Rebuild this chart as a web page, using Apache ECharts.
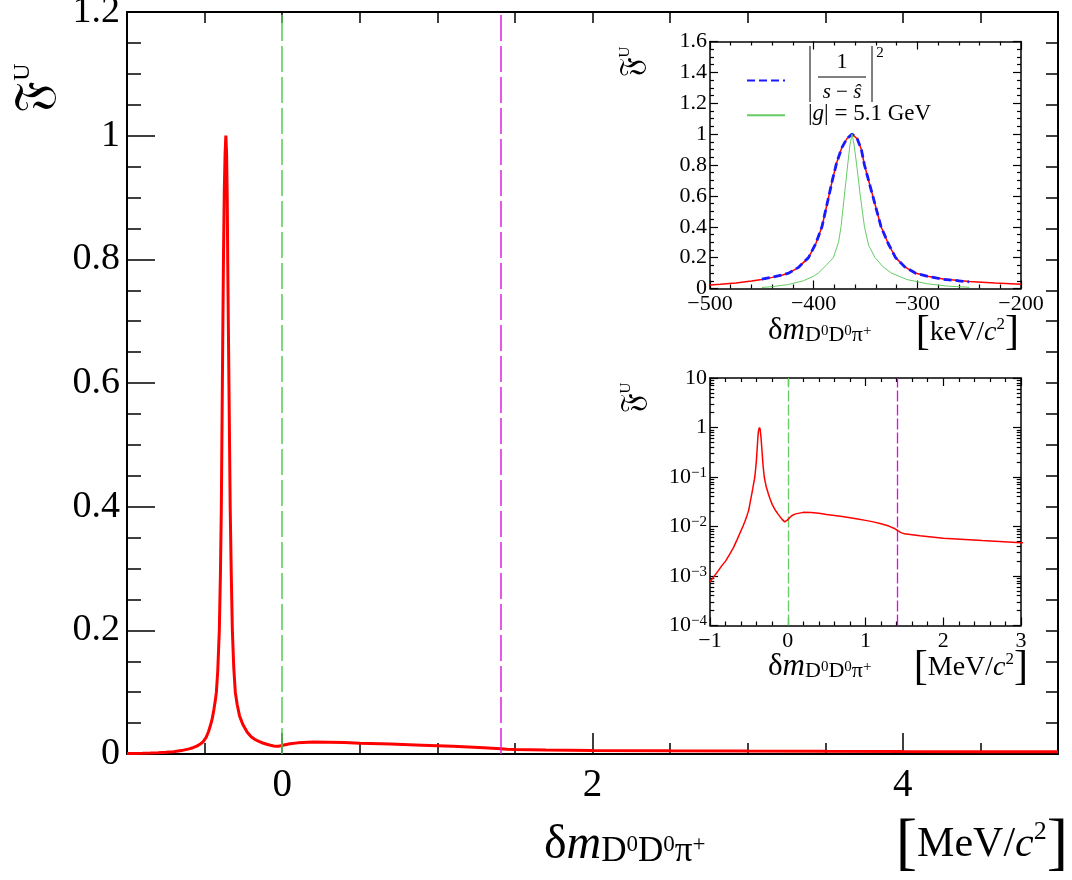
<!DOCTYPE html>
<html>
<head>
<meta charset="utf-8">
<script src="https://cdn.jsdelivr.net/npm/echarts@6/dist/echarts.min.js"></script>
<style>
html,body{margin:0;padding:0;background:#fff;}
#c{width:1072px;height:880px;}
</style>
</head>
<body>
<div id="c"></div>
<script>
// ---------------- data ----------------
// threshold lines (MeV)
const thresholds = [0, 1.41];
// left tail of the red curve (MeV)
const tailLeftX = [-1.0,-0.95,-0.9,-0.85,-0.8,-0.75,-0.7,-0.65,-0.6,-0.575,-0.55,-0.525,-0.51];
const tailLeftY = [0.00076,0.00097,0.00124,0.0016,0.0020,0.0027,0.0037,0.0055,0.0083,0.0102,0.0128,0.0165,0.0195];
// peak region of the red curve (keV)
const peakKeV = [-500,-490,-475,-460,-450,-440,-430,-424,-415,-405,-398,-392,-386,-382,-378,-373,-368,-363,-358,-354,-351,-347,-343,-339,-335,-328,-321,-312,-302,-290,-275,-260,-250,-225,-200];
const peakRed = [0.022,0.027,0.036,0.048,0.058,0.072,0.088,0.10,0.135,0.20,0.29,0.40,0.58,0.70,0.81,0.91,0.97,1.0,0.97,0.90,0.80,0.70,0.60,0.50,0.40,0.29,0.20,0.14,0.10,0.080,0.062,0.052,0.046,0.035,0.028];
// right tail of the red curve (MeV)
const tailRightX = [-0.175,-0.15,-0.125,-0.1,-0.075,-0.055,-0.04,-0.025,-0.01,0,0.05,0.1,0.2,0.3,0.4,0.5,0.7,0.9,1.0,1.1,1.2,1.3,1.38,1.41,1.45,1.5,1.6,1.7,2.0,2.5,3.0,3.5,4.0,4.5,5.0];
const tailRightY = [0.0235,0.0203,0.0178,0.0158,0.0141,0.0129,0.0124,0.0126,0.0133,0.0140,0.0165,0.0180,0.0193,0.0192,0.0185,0.0175,0.0160,0.0142,0.0133,0.0124,0.0114,0.0102,0.0090,0.0084,0.0076,0.0071,0.0068,0.0065,0.0058,0.0052,0.0047,0.0043,0.0040,0.0038,0.0036];
// |1/(s - s^)|^2 (keV)
const blueKeV = [-450,-440,-430,-424,-415,-405,-398,-392,-386,-382,-378,-373,-368,-363,-358,-354,-351,-347,-343,-339,-335,-328,-321,-312,-302,-290,-275,-260,-250];
const blueY = [0.060,0.073,0.088,0.10,0.135,0.20,0.29,0.40,0.58,0.70,0.81,0.91,0.97,1.0,0.97,0.90,0.80,0.70,0.60,0.50,0.40,0.29,0.20,0.14,0.10,0.079,0.060,0.050,0.043];
// |g| = 5.1 GeV (keV)
const greenKeV = [-450,-440,-425,-410,-400,-395.5,-388,-381,-376,-373.6,-370.4,-367.2,-365,-363,-361,-358.5,-355,-351,-347,-340.8,-333,-325,-310,-290,-270,-250];
const greenY = [0.007,0.012,0.025,0.050,0.080,0.10,0.15,0.20,0.30,0.40,0.60,0.80,0.93,1.0,0.93,0.80,0.60,0.40,0.28,0.20,0.14,0.10,0.058,0.030,0.015,0.008];
// tick labels / positions
const mainXLabels = [0, 2, 4];
const logMantissas = [2,3,4,5,6,7,8,9];
const logDecades = [1e-4,1e-3,1e-2,1e-1,1];

// ---------------- build ----------------
const zip = (xs, ys, f) => xs.map((x, i) => [f ? f(x) : x, ys[i]]);
const mainData = zip(tailLeftX, tailLeftY)
  .concat(zip(peakKeV, peakRed, v => v / 1000))
  .concat(zip(tailRightX, tailRightY));
const insetRed = zip(peakKeV, peakRed);
const insetBlue = zip(blueKeV, blueY);
const insetGreen = zip(greenKeV, greenY);
// minor ticks of the log axis: short segments on the left and right frame (x-extent in axis units)
const X2MIN = -1, X2MAX = 3, MINOR_DX = 0.055;
const logMinorMarks = [];
logDecades.forEach(d => logMantissas.forEach(m => {
  const v = m * d;
  logMinorMarks.push([{ coord: [X2MIN, v] }, { coord: [X2MIN + MINOR_DX, v] }]);
  logMinorMarks.push([{ coord: [X2MAX, v] }, { coord: [X2MAX - MINOR_DX, v] }]);
}));

const SERIF = "'Liberation Serif','DejaVu Serif',serif";
const FRAK = "'DejaVu Serif','DejaVu Sans','Noto Sans',serif";
const minus = v => String(v).replace('-', '\u2212');

function axisBase(o) {
  return Object.assign({
    type: 'value',
    z: 3,
    splitLine: { show: false },
    axisLine: { show: true, onZero: false, lineStyle: { color: '#000', width: 1.5 } },
    axisTick: { show: true, inside: true, lineStyle: { color: '#000', width: 1.5 } },
    axisLabel: { show: false },
  }, o);
}

const GM = { left: 127, top: 12, width: 931, height: 742 };
const G1 = { left: 710, top: 41.5, width: 311, height: 247 };
const G2 = { left: 710, top: 378, width: 311, height: 247.5 };
const gridCommon = { show: false, outerBoundsMode: 'none', containLabel: false };

const T = (o) => Object.assign({ type: 'text', z: 30 }, o);
const tk = { color: '#000', width: 1.2 };

const option = {
  animation: false,
  backgroundColor: '#fff',
  textStyle: { fontFamily: SERIF },
  grid: [
    Object.assign({}, gridCommon, GM),
    Object.assign({}, gridCommon, G1),
    Object.assign({}, gridCommon, G2),
  ],
  xAxis: [
    // main
    axisBase({ gridIndex: 0, position: 'bottom', min: -1, max: 5, interval: 0.5,
      axisLine: { show: true, onZero: false, lineStyle: { color: '#000', width: 2 } },
      axisTick: { show: true, inside: true, length: 11, lineStyle: { color: '#000', width: 1.5 } },
      axisLabel: { show: true, customValues: mainXLabels, fontSize: 39, color: '#000', fontFamily: SERIF, margin: 12 } }),
    axisBase({ gridIndex: 0, position: 'bottom', min: -1, max: 5, axisLine: { show: false },
      axisTick: { show: true, inside: true, length: 21, customValues: mainXLabels, lineStyle: { color: '#000', width: 1.5 } } }),
    axisBase({ gridIndex: 0, position: 'top', min: -1, max: 5, interval: 0.5,
      axisLine: { show: true, onZero: false, lineStyle: { color: '#000', width: 2 } },
      axisTick: { show: true, inside: true, length: 11, lineStyle: { color: '#000', width: 1.5 } } }),
    // inset 1
    axisBase({ gridIndex: 1, position: 'bottom', min: -500, max: -200, interval: 100,
      axisTick: { show: true, inside: true, length: 8, lineStyle: tk },
      minorTick: { show: true, splitNumber: 5, length: 4, lineStyle: tk },
      axisLabel: { show: true, fontSize: 22, color: '#000', fontFamily: SERIF, margin: 5, formatter: minus } }),
    axisBase({ gridIndex: 1, position: 'top', min: -500, max: -200, interval: 100,
      axisTick: { show: true, inside: true, length: 8, lineStyle: tk },
      minorTick: { show: true, splitNumber: 5, length: 4, lineStyle: tk } }),
    // inset 2
    axisBase({ gridIndex: 2, position: 'bottom', min: X2MIN, max: X2MAX, interval: 1,
      axisTick: { show: true, inside: true, length: 8, lineStyle: tk },
      minorTick: { show: true, splitNumber: 5, length: 4, lineStyle: tk },
      axisLabel: { show: true, fontSize: 22, color: '#000', fontFamily: SERIF, margin: 5, formatter: minus } }),
    axisBase({ gridIndex: 2, position: 'top', min: X2MIN, max: X2MAX, interval: 1,
      axisTick: { show: true, inside: true, length: 8, lineStyle: tk },
      minorTick: { show: true, splitNumber: 5, length: 4, lineStyle: tk } }),
  ],
  yAxis: [
    // main
    axisBase({ gridIndex: 0, position: 'left', min: 0, max: 1.2, interval: 0.2,
      axisLine: { show: true, onZero: false, lineStyle: { color: '#000', width: 2 } },
      axisTick: { show: true, inside: true, length: 28, lineStyle: { color: '#000', width: 1.5 } },
      minorTick: { show: true, splitNumber: 4, length: 14, lineStyle: { color: '#000', width: 1.5 } },
      axisLabel: { show: true, fontSize: 38, color: '#000', fontFamily: SERIF, margin: 7, padding: [5, 0, 0, 0] } }),
    axisBase({ gridIndex: 0, position: 'right', min: 0, max: 1.2, interval: 0.05,
      axisLine: { show: true, onZero: false, lineStyle: { color: '#000', width: 2 } },
      axisTick: { show: true, inside: true, length: 12, lineStyle: { color: '#000', width: 1.5 } } }),
    // inset 1
    axisBase({ gridIndex: 1, position: 'left', min: 0, max: 1.6, interval: 0.2,
      axisTick: { show: true, inside: true, length: 8, lineStyle: tk },
      minorTick: { show: true, splitNumber: 4, length: 4, lineStyle: tk },
      axisLabel: { show: true, fontSize: 22, color: '#000', fontFamily: SERIF, margin: 3 } }),
    axisBase({ gridIndex: 1, position: 'right', min: 0, max: 1.6, interval: 0.2,
      axisTick: { show: true, inside: true, length: 8, lineStyle: tk },
      minorTick: { show: true, splitNumber: 4, length: 4, lineStyle: tk } }),
    // inset 2 (log)
    axisBase({ gridIndex: 2, type: 'log', logBase: 10, position: 'left', min: 1e-4, max: 10,
      axisTick: { show: true, inside: true, length: 8, lineStyle: tk },
      axisLabel: { show: true, fontSize: 22, color: '#000', fontFamily: SERIF, margin: 3,
        formatter: v => { const e = Math.round(Math.log10(v)); if (e === 0) return '1'; if (e === 1) return '10'; return '10{s|\u2212' + (-e) + '}'; },
        rich: { s: { fontSize: 15, fontFamily: SERIF, color: '#000', verticalAlign: 'top', padding: [0, 0, 8, 0] } } } }),
    axisBase({ gridIndex: 2, type: 'log', logBase: 10, position: 'right', min: 1e-4, max: 10,
      axisTick: { show: true, inside: true, length: 8, lineStyle: tk } }),
  ],
  legend: {
    left: 741, top: 69, orient: 'vertical', itemWidth: 38, itemHeight: 16, itemGap: 22,
    selectedMode: false, data: ['bw', 'g51'], formatter: () => ' ', textStyle: { fontSize: 10 }, z: 20,
    itemStyle: { opacity: 0 }
  },
  series: [
    { type: 'line', xAxisIndex: 0, yAxisIndex: 0, data: mainData, showSymbol: false, symbol: 'none',
      lineStyle: { color: '#ff0000', width: 3 }, z: 3,
      markLine: { silent: true, symbol: 'none', label: { show: false },
        data: [
          { xAxis: thresholds[0], lineStyle: { color: '#55cc55', width: 1.5, type: [26, 5] } },
          { xAxis: thresholds[1], lineStyle: { color: '#e020e0', width: 1.5, type: [26, 5] } },
        ] } },
    { type: 'line', xAxisIndex: 3, yAxisIndex: 2, data: insetRed, showSymbol: false, symbol: 'none',
      lineStyle: { color: '#ff0000', width: 1.5 }, z: 10 },
    { name: 'bw', type: 'line', xAxisIndex: 3, yAxisIndex: 2, data: insetBlue, showSymbol: false, symbol: 'none',
      color: '#1a1aff', lineStyle: { color: '#1a1aff', width: 2.8, type: [8, 4] }, z: 11 },
    { name: 'g51', type: 'line', xAxisIndex: 3, yAxisIndex: 2, data: insetGreen, showSymbol: false, symbol: 'none',
      color: '#66cc66', lineStyle: { color: '#66cc66', width: 1 }, z: 12 },
    { type: 'line', xAxisIndex: 5, yAxisIndex: 4, data: mainData, showSymbol: false, symbol: 'none',
      lineStyle: { color: '#ff0000', width: 1.5 }, z: 10,
      markLine: { silent: true, symbol: 'none', label: { show: false }, lineStyle: { color: '#000', width: 1.2, type: 'solid' },
        data: [
          { xAxis: thresholds[0], lineStyle: { color: '#66cc66', width: 1.3, type: [11, 3] } },
          { xAxis: thresholds[1], lineStyle: { color: '#ee00ee', width: 1.3, type: [11, 3] } },
        ].concat(logMinorMarks) } },
  ],
  graphic: [
    // main y title
    T({ x: 36, y: 88, rotation: Math.PI / 2,
      style: { text: '{f|\uD835\uDD09}{u|U}', align: 'center', verticalAlign: 'middle',
        rich: { f: { fontSize: 50, fontFamily: FRAK, fill: '#000' }, u: { fontSize: 24, fontFamily: SERIF, fill: '#000', verticalAlign: 'top' } } } }),
    // main x title
    T({ x: 544, y: 845,
      style: { text: '{d|\u03b4}{m|m}{s|D}{p|0}{s|D}{p|0}{s|\u03c0}{p|+}', align: 'left', verticalAlign: 'middle',
        rich: {
          d: { fontSize: 48, fontFamily: SERIF, fill: '#000', verticalAlign: 'middle' },
          m: { fontSize: 48, fontFamily: SERIF, fontStyle: 'italic', fill: '#000', verticalAlign: 'middle' },
          s: { fontSize: 35, fontFamily: SERIF, fill: '#000', verticalAlign: 'bottom', lineHeight: 34 },
          p: { fontSize: 23, fontFamily: SERIF, fill: '#000', verticalAlign: 'middle' } } } }),
    T({ x: 1068, y: 845,
      style: { text: '{b|[}{t|MeV/}{c|c}{p|2}{b|]}', align: 'right', verticalAlign: 'middle',
        rich: {
          b: { fontSize: 64, fontFamily: SERIF, fill: '#000', verticalAlign: 'middle' },
          t: { fontSize: 42, fontFamily: SERIF, fill: '#000', verticalAlign: 'middle' },
          c: { fontSize: 42, fontFamily: SERIF, fontStyle: 'italic', fill: '#000', verticalAlign: 'middle' },
          p: { fontSize: 26, fontFamily: SERIF, fill: '#000', verticalAlign: 'top', padding: [6, 0, 0, 0] } } } }),
    // inset y titles
    T({ x: 633, y: 62, rotation: Math.PI / 2,
      style: { text: '{f|\uD835\uDD09}{u|U}', align: 'center', verticalAlign: 'middle',
        rich: { f: { fontSize: 31, fontFamily: FRAK, fill: '#000' }, u: { fontSize: 15, fontFamily: SERIF, fill: '#000', verticalAlign: 'top' } } } }),
    T({ x: 634, y: 398, rotation: Math.PI / 2,
      style: { text: '{f|\uD835\uDD09}{u|U}', align: 'center', verticalAlign: 'middle',
        rich: { f: { fontSize: 31, fontFamily: FRAK, fill: '#000' }, u: { fontSize: 15, fontFamily: SERIF, fill: '#000', verticalAlign: 'top' } } } }),
    // inset x titles
    T({ x: 768, y: 331,
      style: { text: '{d|\u03b4}{m|m}{s|D}{p|0}{s|D}{p|0}{s|\u03c0}{p|+}', align: 'left', verticalAlign: 'middle',
        rich: {
          d: { fontSize: 31, fontFamily: SERIF, fill: '#000' },
          m: { fontSize: 31, fontFamily: SERIF, fontStyle: 'italic', fill: '#000' },
          s: { fontSize: 22, fontFamily: SERIF, fill: '#000', verticalAlign: 'bottom' },
          p: { fontSize: 15, fontFamily: SERIF, fill: '#000', verticalAlign: 'middle' } } } }),
    T({ x: 1019, y: 333,
      style: { text: '{b|[}{t|keV/}{c|c}{p|2}{b|]}', align: 'right', verticalAlign: 'middle',
        rich: {
          b: { fontSize: 42, fontFamily: SERIF, fill: '#000' },
          t: { fontSize: 28, fontFamily: SERIF, fill: '#000' },
          c: { fontSize: 28, fontFamily: SERIF, fontStyle: 'italic', fill: '#000' },
          p: { fontSize: 17, fontFamily: SERIF, fill: '#000', verticalAlign: 'top', padding: [4, 0, 0, 0] } } } }),
    T({ x: 768, y: 667,
      style: { text: '{d|\u03b4}{m|m}{s|D}{p|0}{s|D}{p|0}{s|\u03c0}{p|+}', align: 'left', verticalAlign: 'middle',
        rich: {
          d: { fontSize: 31, fontFamily: SERIF, fill: '#000' },
          m: { fontSize: 31, fontFamily: SERIF, fontStyle: 'italic', fill: '#000' },
          s: { fontSize: 22, fontFamily: SERIF, fill: '#000', verticalAlign: 'bottom' },
          p: { fontSize: 15, fontFamily: SERIF, fill: '#000', verticalAlign: 'middle' } } } }),
    T({ x: 1028, y: 668,
      style: { text: '{b|[}{t|MeV/}{c|c}{p|2}{b|]}', align: 'right', verticalAlign: 'middle',
        rich: {
          b: { fontSize: 42, fontFamily: SERIF, fill: '#000' },
          t: { fontSize: 28, fontFamily: SERIF, fill: '#000' },
          c: { fontSize: 28, fontFamily: SERIF, fontStyle: 'italic', fill: '#000' },
          p: { fontSize: 17, fontFamily: SERIF, fill: '#000', verticalAlign: 'top', padding: [4, 0, 0, 0] } } } }),
    // legend labels in inset 1
    T({ x: 842, y: 62, style: { text: '1', fontSize: 22, fontFamily: SERIF, fill: '#000', align: 'center', verticalAlign: 'middle' } }),
    { type: 'line', z: 30, shape: { x1: 818, y1: 77, x2: 866, y2: 77 }, style: { stroke: '#000', lineWidth: 1 } },
    T({ x: 842, y: 92, style: { text: '{i|s} \u2212 {i|\u015d}', fontSize: 21, fontFamily: SERIF, fill: '#000', align: 'center', verticalAlign: 'middle',
        rich: { i: { fontSize: 21, fontFamily: SERIF, fontStyle: 'italic', fill: '#000' } } } }),
    { type: 'line', z: 30, shape: { x1: 810, y1: 46, x2: 810, y2: 102 }, style: { stroke: '#000', lineWidth: 1 } },
    { type: 'line', z: 30, shape: { x1: 872, y1: 46, x2: 872, y2: 102 }, style: { stroke: '#000', lineWidth: 1 } },
    T({ x: 880, y: 53, style: { text: '2', fontSize: 15, fontFamily: SERIF, fill: '#000', align: 'center', verticalAlign: 'middle' } }),
    T({ x: 808, y: 114, style: { text: '|{i|g}| = 5.1 GeV', fontSize: 23, fontFamily: SERIF, fill: '#000', align: 'left', verticalAlign: 'middle',
        rich: { i: { fontSize: 23, fontFamily: SERIF, fontStyle: 'italic', fill: '#000' } } } }),
  ],
};

const chart = echarts.init(document.getElementById('c'), null, { renderer: 'canvas' });
chart.setOption(option);
</script>
</body>
</html>
